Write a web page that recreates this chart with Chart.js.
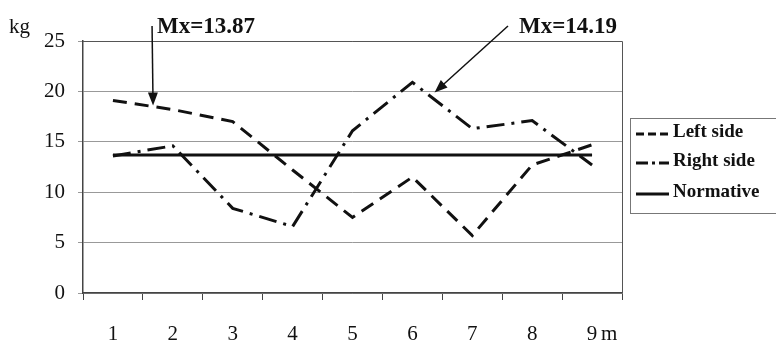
<!DOCTYPE html>
<html>
<head>
<meta charset="utf-8">
<script src="https://cdn.jsdelivr.net/npm/chart.js@4"></script>
<style>
  html, body { margin: 0; padding: 0; background: #fff; }
  #wrap { width: 776px; height: 342px; }
</style>
</head>
<body>
<div id="wrap"><canvas id="chart" width="776" height="342"></canvas></div>
<script>
// Data
const months = ["1", "2", "3", "4", "5", "6", "7", "8", "9"];
const leftSide = [19.1, 18.2, 17.0, 12.2, 7.5, 11.5, 5.7, 12.7, 14.7];
const rightSide = [13.6, 14.6, 8.4, 6.6, 16.1, 20.9, 16.3, 17.1, 12.7];
const normative = [13.7, 13.7, 13.7, 13.7, 13.7, 13.7, 13.7, 13.7, 13.7];
const yTicks = [0, 5, 10, 15, 20, 25];

// Mean annotations: text + where the arrow points (category index, value)
const notes = [
  { text: "Mx=13.87", index: 0.67, value: 18.6 },
  { text: "Mx=14.19", index: 5.37, value: 19.9 },
];

const serif = "'Liberation Serif', 'DejaVu Serif', serif";
const ink = "#111";

function arrow(ctx, x1, y1, x2, y2) {
  const a = Math.atan2(y2 - y1, x2 - x1);
  const len = 13, half = 5;
  ctx.beginPath();
  ctx.moveTo(x1, y1);
  ctx.lineTo(x2 - Math.cos(a) * len * 0.8, y2 - Math.sin(a) * len * 0.8);
  ctx.stroke();
  ctx.beginPath();
  ctx.moveTo(x2, y2);
  ctx.lineTo(x2 - Math.cos(a) * len - Math.sin(a) * half, y2 - Math.sin(a) * len + Math.cos(a) * half);
  ctx.lineTo(x2 - Math.cos(a) * len + Math.sin(a) * half, y2 - Math.sin(a) * len - Math.cos(a) * half);
  ctx.closePath();
  ctx.fill();
}

// Extra drawing: unit labels, Mx arrows, boxed legend
const extras = {
  id: "extras",
  afterDraw(chart) {
    const ctx = chart.ctx;
    const x = chart.scales.x, y = chart.scales.y;
    const area = chart.chartArea;
    ctx.save();
    ctx.fillStyle = ink;
    ctx.strokeStyle = ink;

    // units
    ctx.font = "21px " + serif;
    ctx.textBaseline = "alphabetic";
    ctx.textAlign = "left";
    ctx.fillText("kg", 9, 33);
    ctx.fillText("m", x.getPixelForValue(8) + 9, 340);

    // Mx labels with arrows
    ctx.font = "bold 23px " + serif;
    ctx.lineWidth = 1.5;
    const tx = [area.left + 74, area.left + 436];
    notes.forEach((n, i) => {
      ctx.fillText(n.text, tx[i], 33);
      const px = x.getPixelForValue(n.index);
      const py = y.getPixelForValue(n.value);
      const sx = i === 0 ? px - 1 : tx[i] - 11;
      arrow(ctx, sx, 26, px, py);
    });

    // legend box
    const lx = area.right + 8, ly = 118;
    ctx.strokeStyle = "#777";
    ctx.lineWidth = 1;
    ctx.strokeRect(lx + 0.5, ly + 0.5, 200, 95);
    const rows = [132, 161, 192];
    ctx.font = "bold 19px " + serif;
    ctx.textBaseline = "middle";
    chart.data.datasets.forEach((ds, i) => {
      const ry = rows[i];
      ctx.strokeStyle = ink;
      ctx.lineWidth = 3;
      ctx.setLineDash(ds.legendDash);
      ctx.beginPath();
      ctx.moveTo(lx + 6, ry + 2);
      ctx.lineTo(lx + 39, ry + 2);
      ctx.stroke();
      ctx.setLineDash([]);
      ctx.fillText(ds.label, lx + 43, ry);
    });
    ctx.restore();
  },
};

const ctx = document.getElementById("chart").getContext("2d");

const chart = new Chart(ctx, {
  type: "line",
  data: {
    labels: months,
    datasets: [
      {
        label: "Left side",
        data: leftSide,
        borderColor: ink,
        borderWidth: 3,
        borderDash: [14, 8],
        legendDash: [8, 4],
      },
      {
        label: "Right side",
        data: rightSide,
        borderColor: ink,
        borderWidth: 3,
        borderDash: [18, 7, 3, 7],
        legendDash: [12, 4, 3, 4],
      },
      {
        label: "Normative",
        data: normative,
        borderColor: ink,
        borderWidth: 3,
        legendDash: [],
      },
    ],
  },
  options: {
    responsive: false,
    animation: false,
    devicePixelRatio: 1,
    layout: { padding: { left: 0, right: 154, top: 41, bottom: 0 } },
    elements: {
      point: { radius: 0 },
      line: { tension: 0, fill: false },
    },
    plugins: {
      legend: { display: false },
      tooltip: { enabled: false },
    },
    scales: {
      x: {
        type: "category",
        offset: true,
        afterFit: (s) => { s.height = 49; },
        grid: {
          offset: true,
          drawOnChartArea: false,
          tickLength: 7,
          color: "#444",
        },
        border: { color: "#444", width: 1.5 },
        ticks: {
          color: ink,
          padding: 22,
          font: { family: serif, size: 21 },
          maxRotation: 0,
        },
      },
      y: {
        min: 0,
        max: 25,
        afterFit: (s) => { s.width = 83; },
        afterBuildTicks: (s) => { s.ticks = yTicks.map((v) => ({ value: v })); },
        grid: { color: "#999", lineWidth: 1, tickLength: 5 },
        border: { color: "#444", width: 1.5 },
        ticks: {
          color: ink,
          padding: 13,
          font: { family: serif, size: 21 },
        },
      },
    },
  },
  plugins: [
    extras,
    {
      id: "frame",
      afterDatasetsDraw(chart) {
        const a = chart.chartArea, c = chart.ctx;
        c.save();
        c.strokeStyle = "#555";
        c.lineWidth = 1;
        c.beginPath();
        c.moveTo(a.left, a.top + 0.5);
        c.lineTo(a.right + 0.5, a.top + 0.5);
        c.lineTo(a.right + 0.5, a.bottom);
        c.stroke();
        c.restore();
      },
    },
  ],
});
</script>
</body>
</html>
